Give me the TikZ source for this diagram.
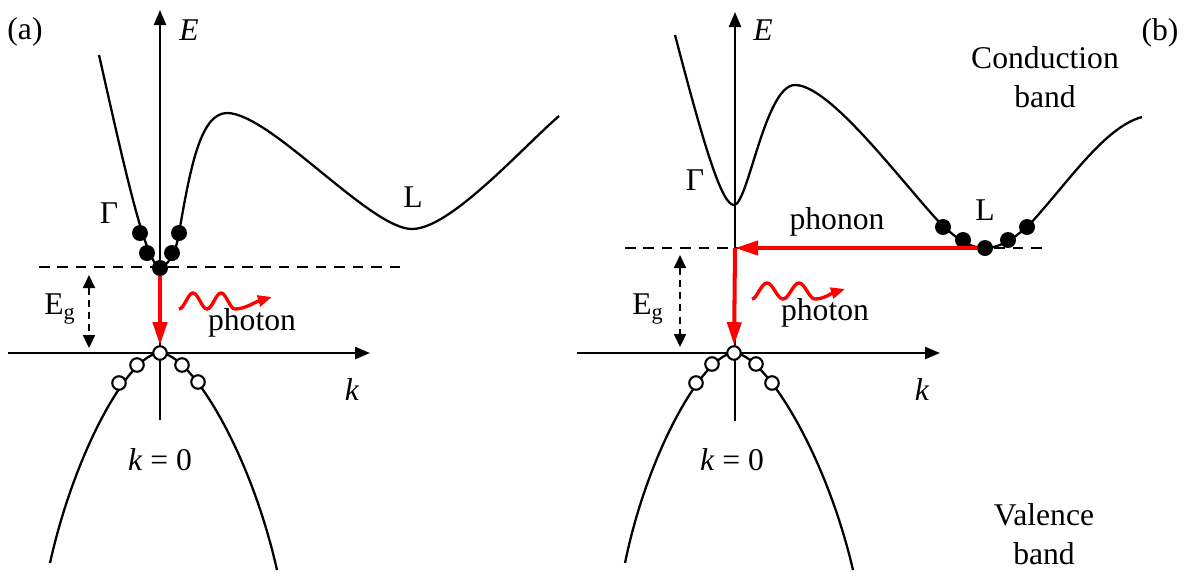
\documentclass[tikz,border=0pt]{standalone}
\usepackage{fontspec}
\setmainfont{Liberation Serif}
\usetikzlibrary{arrows.meta}
\definecolor{transred}{RGB}{255,0,0}

\begin{document}
\begin{tikzpicture}[x=0.2mm, y=-0.2mm,
  every node/.style={font=\fontsize{18}{22}\selectfont},
  band/.style={line width=1.3pt},
  axis/.style={line width=1.4pt, -{Triangle[length=3mm, width=2.4mm]}},
  level/.style={line width=1.2pt, dash pattern=on 6pt off 4.5pt},
  gap/.style={line width=1.2pt, dash pattern=on 4pt off 3pt,
              {Triangle[length=2.6mm, width=2.4mm]}-{Triangle[length=2.6mm, width=2.4mm]}},
  trans/.style={draw=transred, line width=2.3pt, -{Triangle[length=4.6mm, width=2.8mm]}},
  wave/.style={draw=transred, line width=1.9pt, -{Triangle[length=2.8mm, width=2.2mm]}},
  elec/.style={circle, fill=black, inner sep=0pt, minimum size=3.2mm},
  hole/.style={circle, draw=black, fill=white, line width=1.2pt, inner sep=0pt,
               minimum size=2.7mm}]

  \useasboundingbox (0,0) rectangle (1190,572);

  % ---------------- (a) direct gap
  \coordinate (aEbot) at (160,420);
  \coordinate (aEtop) at (160,10);
  \coordinate (akl) at (8,353);
  \coordinate (akr) at (370,353);
  \coordinate (adl) at (39,267);
  \coordinate (adr) at (405,267);
  \coordinate (agt) at (89,275);
  \coordinate (agb) at (89,348);

  \draw[level] (adl) -- (adr);
  \draw[band] (99,55) .. controls (125,170) and (145,262) .. (160,268)
    .. controls (172,262) and (176,250) .. (179,233)
    .. controls (190,170) and (200,113) .. (227,113)
    .. controls (270,113) and (370,229) .. (412,229)
    .. controls (450,229) and (520,150) .. (559,116);
  \draw[band] (50,563) .. controls (75,450) and (130,353) .. (160,353)
    .. controls (190,353) and (250,450) .. (277,570);
  \draw[axis] (aEbot) -- (aEtop);
  \draw[axis] (akl) -- (akr);
  \draw[gap] (agt) -- (agb);

  \foreach \i/\x/\y in {1/140/233, 2/147/253, 3/160/268, 4/172/253, 5/179/233}
    \node[elec] (ea\i) at (\x,\y) {};
  \foreach \i/\x/\y in {1/160/353, 2/137/365, 3/119/383, 4/182/365, 5/198/382}
    \node[hole] (ha\i) at (\x,\y) {};

  \draw[trans] (ea3) -- (ha1);
  \draw[wave] (179,309) cos (186,301) sin (193,293) cos (200,301) sin (207,309)
    cos (214,301) sin (221,293) cos (228,301) sin (235,309)
    .. controls (245,309) and (255,302) .. (272,297);

  \node (lbla) at (25,32) {(a)};
  \node (Ea) at (189,30) {\textit{E}};
  \node (Gama) at (109,213) {Γ};
  \node (La) at (413,197) {L};
  \node (Ega) at (60,309) {E\textsubscript{g}};
  \node (pha) at (252,323) {photon};
  \node (ka) at (352,390) {\textit{k}};
  \node (k0a) at (160,460) {\textit{k} = 0};

  % ---------------- (b) indirect gap
  \coordinate (bEbot) at (735,421);
  \coordinate (bEtop) at (735,12);
  \coordinate (bkl) at (577,353);
  \coordinate (bkr) at (940,353);
  \coordinate (bdl) at (625,248);
  \coordinate (bdr) at (1048,248);
  \coordinate (bgt) at (680,255);
  \coordinate (bgb) at (680,347);
  \coordinate (bG) at (735,248);

  \draw[level] (bdl) -- (bdr);
  \draw[band] (675,35) .. controls (705,150) and (722,205) .. (734,205)
    .. controls (748,205) and (765,85) .. (795,85)
    .. controls (830,85) and (900,180) .. (940,223)
    .. controls (958,240) and (970,248) .. (985,248)
    .. controls (1000,248) and (1015,238) .. (1030,224)
    .. controls (1070,180) and (1105,127) .. (1142,117);
  \draw[band] (625,563) .. controls (648,450) and (705,353) .. (734,353)
    .. controls (763,353) and (825,450) .. (853,570);
  \draw[axis] (bEbot) -- (bEtop);
  \draw[axis] (bkl) -- (bkr);
  \draw[gap] (bgt) -- (bgb);

  \foreach \i/\x/\y in {1/943/227, 2/963/240, 3/985/248, 4/1008/240, 5/1027/227}
    \node[elec] (eb\i) at (\x,\y) {};
  \foreach \i/\x/\y in {1/734/353, 2/712/364, 3/696/383, 4/756/364, 5/772/383}
    \node[hole] (hb\i) at (\x,\y) {};

  \draw[trans] (eb3) -- (bG);
  \draw[trans] (bG) -- (hb1);
  \draw[wave] (752,299) cos (759,291) sin (767,283) cos (775,291) sin (783,299)
    cos (791,291) sin (799,283) cos (807,291) sin (815,299)
    .. controls (824,299) and (832,293) .. (845,289);

  \node (lblb) at (1160,33) {(b)};
  \node (Eb) at (763,30) {\textit{E}};
  \node (Gamb) at (695,180) {Γ};
  \node (Lb) at (985,210) {L};
  \node (Egb) at (648,309) {E\textsubscript{g}};
  \node (phb) at (825,313) {photon};
  \node (phnb) at (837,222) {phonon};
  \node (kb) at (922,390) {\textit{k}};
  \node (k0b) at (732,460) {\textit{k} = 0};
  \node[align=center] (cband) at (1045,77) {Conduction\\band};
  \node[align=center] (vband) at (1044,534) {Valence\\band};
\end{tikzpicture}
\end{document}
